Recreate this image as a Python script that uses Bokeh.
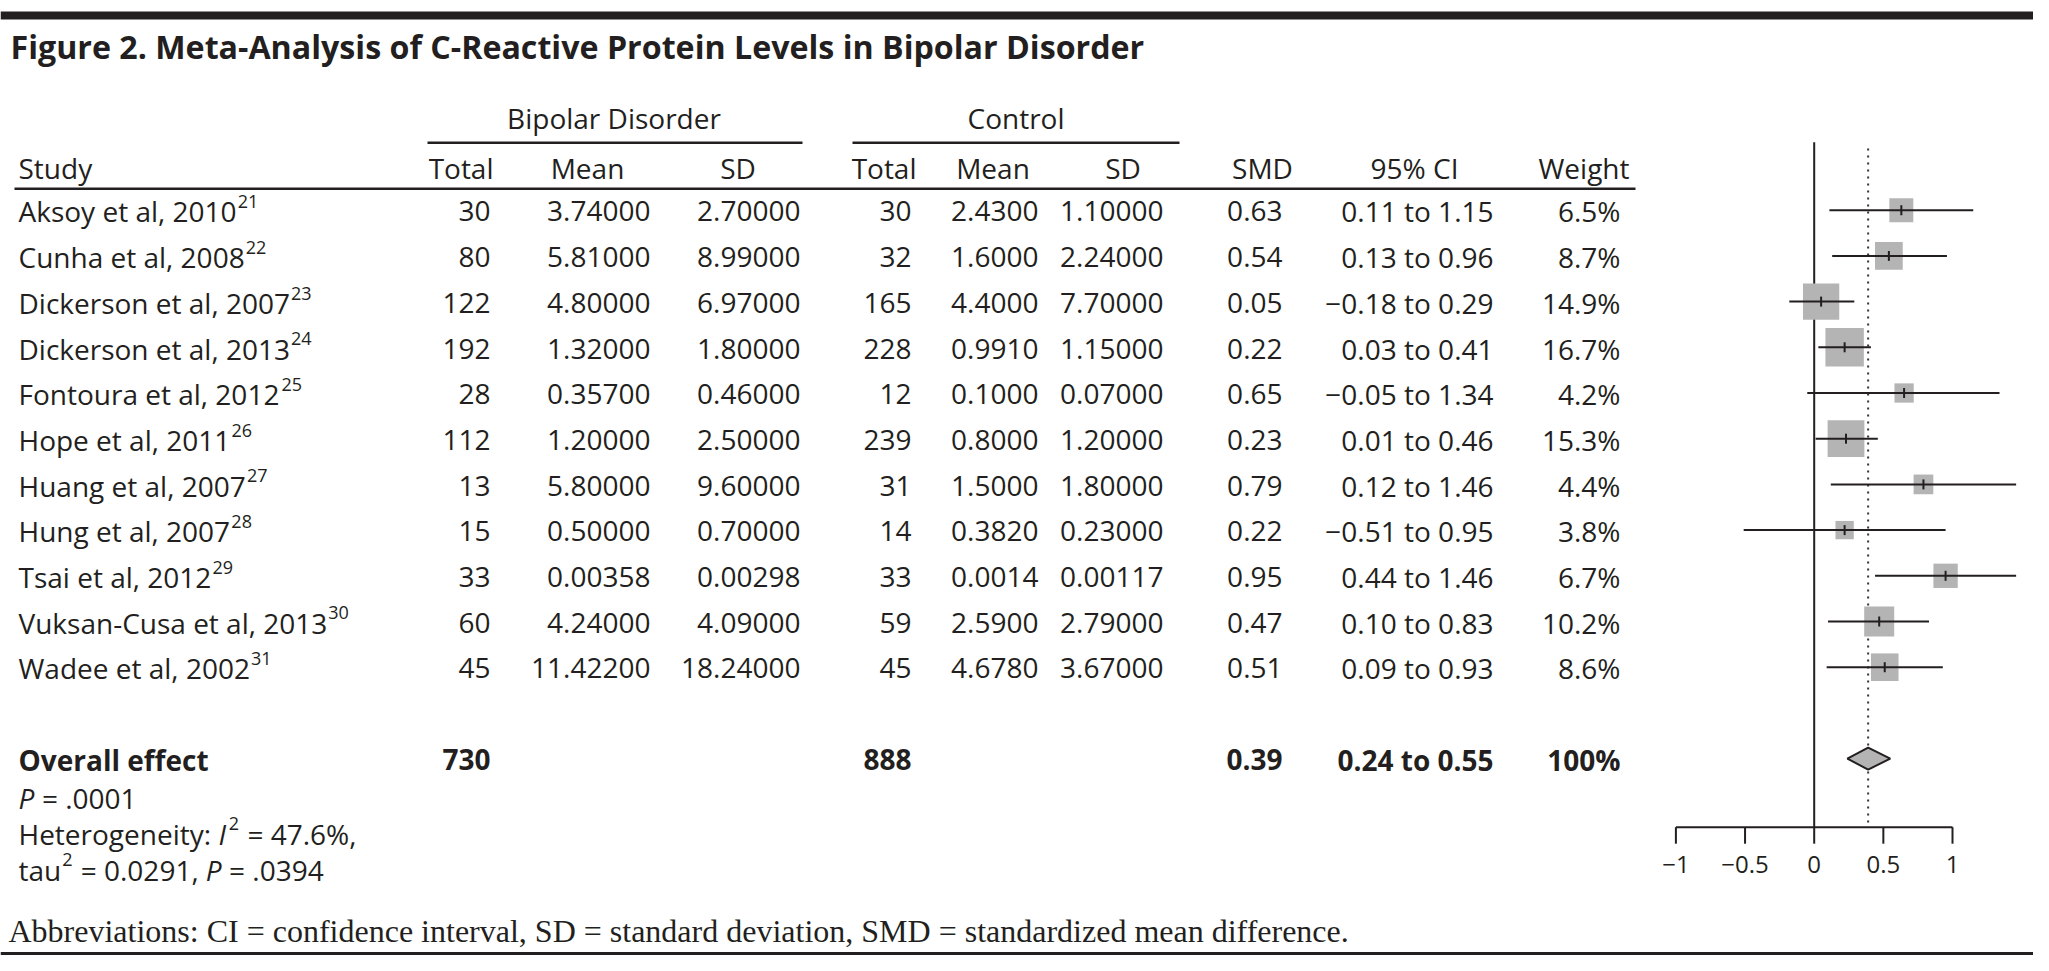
import math
from bokeh.plotting import figure
from bokeh.models import Range1d
from bokeh.core.properties import value
from bokeh.embed import file_html
from bokeh.resources import INLINE

# ---------------- data ----------------
studies = ["Aksoy et al, 2010", "Cunha et al, 2008", "Dickerson et al, 2007",
           "Dickerson et al, 2013", "Fontoura et al, 2012", "Hope et al, 2011",
           "Huang et al, 2007", "Hung et al, 2007", "Tsai et al, 2012",
           "Vuksan-Cusa et al, 2013", "Wadee et al, 2002"]
refs = ["21", "22", "23", "24", "25", "26", "27", "28", "29", "30", "31"]
bd_total = [30, 80, 122, 192, 28, 112, 13, 15, 33, 60, 45]
bd_mean = [3.74, 5.81, 4.80, 1.32, 0.357, 1.20, 5.80, 0.50, 0.00358, 4.24, 11.422]
bd_sd = [2.70, 8.99, 6.97, 1.80, 0.46, 2.50, 9.60, 0.70, 0.00298, 4.09, 18.24]
ct_total = [30, 32, 165, 228, 12, 239, 31, 14, 33, 59, 45]
ct_mean = [2.43, 1.60, 4.40, 0.991, 0.10, 0.80, 1.50, 0.382, 0.0014, 2.59, 4.678]
ct_sd = [1.10, 2.24, 7.70, 1.15, 0.07, 1.20, 1.80, 0.23, 0.00117, 2.79, 3.67]
smd = [0.63, 0.54, 0.05, 0.22, 0.65, 0.23, 0.79, 0.22, 0.95, 0.47, 0.51]
ci_lo = [0.11, 0.13, -0.18, 0.03, -0.05, 0.01, 0.12, -0.51, 0.44, 0.10, 0.09]
ci_hi = [1.15, 0.96, 0.29, 0.41, 1.34, 0.46, 1.46, 0.95, 1.46, 0.83, 0.93]
weight = [6.5, 8.7, 14.9, 16.7, 4.2, 15.3, 4.4, 3.8, 6.7, 10.2, 8.6]

overall_bd_total = 730
overall_ct_total = 888
overall_smd = 0.39
overall_lo = 0.24
overall_hi = 0.55
overall_weight = 100
overall_p = ".0001"
het_i2 = "47.6%"
het_tau2 = "0.0291"
het_p = ".0394"

axis_ticks = [-1, -0.5, 0, 0.5, 1]
axis_tick_labels = ["\u22121", "\u22120.5", "0", "0.5", "1"]

title = "Figure 2. Meta-Analysis of C-Reactive Protein Levels in Bipolar Disorder"
abbrev = ("Abbreviations: CI = confidence interval, SD = standard deviation, "
          "SMD = standardized mean difference.")

# ---------------- layout / style ----------------
W, H = 2033, 955
SMD_X0, SMD_UNIT = 1813.7, 138.3    # canvas x of SMD 0, px per SMD unit
ROW_Y0, ROW_STEP = 209.7, 45.7      # canvas y of first study row, px per row
BASE_OFF = 9.6 / ROW_STEP           # text baseline below row centre
INK = "#231f20"
GREY = "#b4b4b4"
FONT = "Open Sans"
FS = 28
SUP_FS = 18
SUP_RAISE = 12.8
BASELINE_FIX = 0.30                 # em correction of rendered baseline

OS_REG = {' ': 532, ',': 502, '-': 659, '.': 545, ':': 545, '=': 1171, '%': 1702,
          'A': 1296, 'C': 1292, 'D': 1491, 'F': 1124, 'H': 1511, 'I': 571, 'P': 1219,
          'S': 1120, 'T': 1139, 'V': 1212, 'W': 1897,
          'a': 1139, 'c': 975, 'd': 1255, 'e': 1149, 'f': 694, 'g': 1122, 'h': 1257,
          'i': 518, 'k': 1075, 'l': 518, 'm': 1905, 'n': 1257, 'o': 1237, 'p': 1255,
          'r': 836, 's': 977, 't': 723, 'u': 1257, 'v': 1024, 'y': 1026, 'z': 979}
for d in "0123456789":
    OS_REG[d] = 1171
OS_IT = {'P': 1180, 'I': 540}


def tw(s, size, table=OS_REG):
    return sum(table.get(c, 1100) for c in s) * size / 2048.0


p = figure(width=W, height=H, output_backend="svg", toolbar_location=None,
           x_range=Range1d(0, W), y_range=Range1d(H, 0),
           x_axis_location=None, y_axis_location=None, min_border=0)
p.grid.visible = False
p.outline_line_color = None
p.background_fill_color = "white"
p.border_fill_color = "white"
p.extra_x_ranges = {"smd": Range1d((0 - SMD_X0) / SMD_UNIT, (W - SMD_X0) / SMD_UNIT)}
p.extra_y_ranges = {"row": Range1d((H - ROW_Y0) / ROW_STEP, (0 - ROW_Y0) / ROW_STEP)}


def txt(x, y, t, size=FS, align="left", font=FONT, style="normal", xr=None, yr=None,
        color=INK, fix=BASELINE_FIX):
    kw = {}
    if xr:
        kw["x_range_name"] = xr
    if yr:
        kw["y_range_name"] = yr
    scale = ROW_STEP if yr == "row" else 1.0
    yy = [v - fix * size / scale for v in y]
    p.text(x=x, y=yy, text=t, text_font=value(font), text_font_size=f"{size}px",
           text_font_style=style, text_align=align, text_baseline="alphabetic",
           text_color=color, **kw)


def neg(v):
    return f"{v:.2f}".replace("-", "\u2212")


SPACE = tw(" ", FS)

# rules
p.quad(left=[0], right=[W], top=[11], bottom=[19], fill_color=INK, line_color=None)
p.segment(x0=[427, 852, 14], x1=[802, 1179, 1635], y0=[142.3, 142.3, 188.3],
          y1=[142.3, 142.3, 188.3], line_color=INK, line_width=2.5)
p.segment(x0=[0], x1=[W], y0=[953], y1=[953], line_color=INK, line_width=3)

# title
txt([10], [56], [title], size=32.2, style="bold")

# headers
txt([613.5, 1015.5], [126, 126], ["Bipolar Disorder", "Control"], align="center")
HDR_Y = 176
txt([18], [HDR_Y], ["Study"])
txt([493, 916], [HDR_Y, HDR_Y], ["Total", "Total"], align="right")
txt([587, 737.5, 992.5, 1122.5, 1262, 1414, 1583.5], [HDR_Y] * 7,
    ["Mean", "SD", "Mean", "SD", "SMD", "95% CI", "Weight"], align="center")

# study rows
rows = list(range(len(studies)))
rows_b = [r + BASE_OFF for r in rows]
txt([18] * len(studies), rows_b, studies, yr="row")
sup_x = [18 + tw(s, FS) + 1.5 for s in studies]
txt(sup_x, [r - SUP_RAISE / ROW_STEP for r in rows_b], refs, size=SUP_FS, yr="row")

columns = [
    (490, [str(v) for v in bd_total]),
    (650, [f"{v:.5f}" for v in bd_mean]),
    (800, [f"{v:.5f}" for v in bd_sd]),
    (911, [str(v) for v in ct_total]),
    (1038, [f"{v:.4f}" for v in ct_mean]),
    (1163, [f"{v:.5f}" for v in ct_sd]),
    (1282, [f"{v:.2f}" for v in smd]),
    (1493, [f"{neg(a)} to {neg(b)}" for a, b in zip(ci_lo, ci_hi)]),
    (1620, [f"{w:.1f}%" for w in weight]),
]
for cx, vals in columns:
    txt([cx] * len(vals), rows_b, vals, align="right", yr="row")

# overall row
ov_row = len(studies) + 1
ov_b = ov_row + BASE_OFF
txt([18], [ov_b], ["Overall effect"], style="bold", yr="row")
txt([490, 911, 1282, 1493, 1620], [ov_b] * 5,
    [str(overall_bd_total), str(overall_ct_total), f"{overall_smd:.2f}",
     f"{neg(overall_lo)} to {neg(overall_hi)}", f"{overall_weight}%"],
    align="right", style="bold", yr="row")

# statistics lines
y1, y2, y3 = 805.6, 841.6, 877.6
txt([18], [y1], ["P"], style="italic")
txt([18 + tw("P", FS, OS_IT) + SPACE], [y1], [f"= {overall_p}"])

part1 = "Heterogeneity:"
xi = 18 + tw(part1, FS) + SPACE
txt([18], [y2], [part1])
txt([xi], [y2], ["I"], style="italic")
xs = xi + tw("I", FS, OS_IT) + 3
txt([xs], [y2 - SUP_RAISE], ["2"], size=SUP_FS)
txt([xs + tw("2", SUP_FS) + 1 + SPACE], [y2], [f"= {het_i2},"])

txt([18], [y3], ["tau"])
xs = 18 + tw("tau", FS) + 1
txt([xs], [y3 - SUP_RAISE], ["2"], size=SUP_FS)
part3 = f"= {het_tau2},"
xs2 = xs + tw("2", SUP_FS) + 1 + SPACE
txt([xs2], [y3], [part3])
xs3 = xs2 + tw(part3, FS) + SPACE
txt([xs3], [y3], ["P"], style="italic")
txt([xs3 + tw("P", FS, OS_IT) + SPACE], [y3], [f"= {het_p}"])

# abbreviations
txt([8], [940], [abbrev], size=32, font="Liberation Serif")

# ---------------- forest plot ----------------
AX_Y = 826.7
p.segment(x0=[0], x1=[0], y0=[141.7], y1=[AX_Y], x_range_name="smd",
          line_color=INK, line_width=2)
p.segment(x0=[overall_smd], x1=[overall_smd], y0=[148], y1=[AX_Y - 4], x_range_name="smd",
          line_color="#333333", line_width=2, line_dash="2 5")
p.segment(x0=[axis_ticks[0]], x1=[axis_ticks[-1]], y0=[AX_Y], y1=[AX_Y], x_range_name="smd",
          line_color=INK, line_width=2)
p.segment(x0=axis_ticks, x1=axis_ticks, y0=[AX_Y] * len(axis_ticks),
          y1=[AX_Y + 16.5] * len(axis_ticks), x_range_name="smd", line_color=INK, line_width=2)
txt(axis_ticks, [871.5] * len(axis_ticks), axis_tick_labels, size=24, align="center", xr="smd")

sizes = [9.4 * math.sqrt(w) for w in weight]
p.scatter(x=smd, y=rows, marker="square", size=sizes, fill_color=GREY, line_color=None,
          x_range_name="smd", y_range_name="row")
p.segment(x0=ci_lo, x1=ci_hi, y0=rows, y1=rows, x_range_name="smd", y_range_name="row",
          line_color=INK, line_width=2)
tick_h = 5.0 / ROW_STEP
p.segment(x0=smd, x1=smd, y0=[r - tick_h for r in rows], y1=[r + tick_h for r in rows],
          x_range_name="smd", y_range_name="row", line_color=INK, line_width=2)

dh = 11.0 / ROW_STEP
p.patch(x=[overall_lo, overall_smd, overall_hi, overall_smd],
        y=[ov_row, ov_row - dh, ov_row, ov_row + dh],
        x_range_name="smd", y_range_name="row",
        fill_color=GREY, line_color=INK, line_width=2)

open("out.html", "w").write(file_html(p, INLINE))
